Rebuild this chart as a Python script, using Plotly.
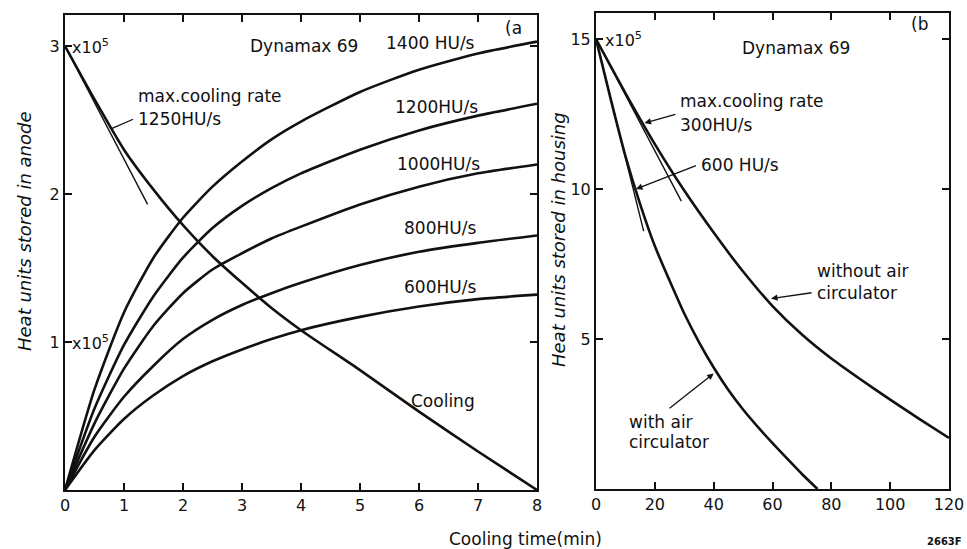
import plotly.graph_objects as go

# ---------------- data (units of 10^5 HU) ----------------
t_a = [0, 0.5, 1, 1.5, 2, 2.5, 3, 3.5, 4, 5, 6, 7, 8]
h1400 = [0, 0.68, 1.20, 1.57, 1.84, 2.05, 2.22, 2.37, 2.49, 2.69, 2.84, 2.95, 3.03]
h1200 = [0, 0.55, 0.98, 1.31, 1.57, 1.77, 1.92, 2.04, 2.14, 2.30, 2.43, 2.53, 2.61]
h1000 = [0, 0.45, 0.82, 1.11, 1.33, 1.49, 1.60, 1.70, 1.78, 1.93, 2.05, 2.14, 2.20]
h800 = [0, 0.36, 0.63, 0.84, 1.02, 1.15, 1.25, 1.33, 1.40, 1.52, 1.61, 1.67, 1.72]
h600 = [0, 0.27, 0.48, 0.64, 0.77, 0.87, 0.95, 1.02, 1.08, 1.17, 1.24, 1.29, 1.32]
cooling_a = [3.0, 2.64, 2.30, 2.03, 1.79, 1.58, 1.40, 1.23, 1.08, 0.81, 0.53, 0.26, 0.0]
tan_a_x = [0, 1.4]
tan_a_y = [3.0, 1.93]

t_b_without = [0, 10, 20, 30, 40, 50, 60, 70, 80, 90, 100, 110, 120]
without_air = [15, 13.2, 11.5, 9.95, 8.55, 7.25, 6.1, 5.15, 4.35, 3.65, 2.98, 2.33, 1.7]
t_b_with = [0, 5, 10, 15, 20, 25, 30, 35, 40, 45, 50, 55, 60, 65, 70, 75.3]
with_air = [15, 13.0, 11.1, 9.5, 8.1, 6.95, 5.85, 4.9, 4.05, 3.3, 2.65, 2.07, 1.53, 1.01, 0.5, 0]
tan300_x = [0, 29]
tan300_y = [15, 9.6]
tan600_x = [0, 16.2]
tan600_y = [15, 8.6]

xticks_a = [0, 1, 2, 3, 4, 5, 6, 7, 8]
yticks_a = [1, 2, 3]
xticks_b = [0, 20, 40, 60, 80, 100, 120]
yticks_b = [5, 10, 15]

FONT = "DejaVu Sans"
BLACK = "#111111"

# the page body margin is removed in post_script, so the figure fills the window
W, H = 967, 549
def px(x):
    return x / W
def py(y):
    return 1 - y / H

fig = go.Figure()

def curve(x, y, xa, ya, w=2.6):
    fig.add_trace(go.Scatter(x=x, y=y, mode="lines", xaxis=xa, yaxis=ya,
                             line=dict(color=BLACK, width=w, shape="spline", smoothing=0.6),
                             showlegend=False, hoverinfo="skip"))

for h in (h1400, h1200, h1000, h800, h600):
    curve(t_a, h, "x", "y")
curve(t_a, cooling_a, "x", "y")
curve(tan_a_x, tan_a_y, "x", "y", w=1.4)

curve(t_b_without, without_air, "x2", "y2")
curve(t_b_with, with_air, "x2", "y2")
curve(tan300_x, tan300_y, "x2", "y2", w=1.4)
curve(tan600_x, tan600_y, "x2", "y2", w=1.4)

axis_common = dict(showline=True, linecolor=BLACK, linewidth=2, mirror="allticks",
                   ticks="inside", ticklen=7, tickwidth=1.6, tickcolor=BLACK,
                   showgrid=False, zeroline=False, automargin=False,
                   tickfont=dict(family=FONT, size=16, color=BLACK))

fig.update_layout(
    width=W, height=H,
    margin=dict(l=0, r=0, t=0, b=0, pad=0),
    paper_bgcolor="white", plot_bgcolor="white",
    font=dict(family=FONT, color=BLACK),
    hovermode=False,
    xaxis=dict(domain=[px(65), px(537)], range=[0, 8], tickvals=xticks_a,
               anchor="y", **axis_common),
    yaxis=dict(domain=[py(490), py(15)], range=[0, 3.21], tickvals=yticks_a,
               anchor="x", **axis_common),
    xaxis2=dict(domain=[px(596), px(949)], range=[0, 120], tickvals=xticks_b,
                anchor="y2", **axis_common),
    yaxis2=dict(domain=[py(489), py(13)], range=[0, 15.87], tickvals=yticks_b,
                anchor="x2", **axis_common),
)

ann = []
def txt(text, x, y, xref="x", yref="y", size=17, xanchor="left", yanchor="middle", **kw):
    ann.append(dict(text=text, x=x, y=y, xref=xref, yref=yref, showarrow=False,
                    xanchor=xanchor, yanchor=yanchor,
                    font=dict(family=FONT, size=size, color=BLACK), **kw))

def arrow(x, y, ax, ay, xref="x", yref="y", head=2):
    ann.append(dict(text="", x=x, y=y, ax=ax, ay=ay, xref=xref, yref=yref,
                    axref=xref, ayref=yref, showarrow=True, arrowhead=head,
                    arrowsize=1, arrowwidth=1.3, arrowcolor=BLACK))

# panel (a)
txt("x10<sup>5</sup>", 0.08, 3.0, size=16)
txt("x10<sup>5</sup>", 0.08, 1.0, size=16)
txt("Dynamax 69", 4.05, 3.0, xanchor="center")
txt("(a", 7.6, 3.12, xanchor="center")
txt("1400 HU/s", 6.2, 3.02, xanchor="center")
txt("1200HU/s", 6.3, 2.59, xanchor="center")
txt("1000HU/s", 6.33, 2.20, xanchor="center")
txt("800HU/s", 6.35, 1.77, xanchor="center")
txt("600HU/s", 6.35, 1.37, xanchor="center")
txt("Cooling", 6.4, 0.60, xanchor="center")
txt("max.cooling rate", 1.2, 2.66)
txt("1250HU/s", 1.2, 2.51)
arrow(0.78, 2.44, 1.18, 2.51, head=0)

# panel (b)
txt("x10<sup>5</sup>", 2.5, 15.0, xref="x2", yref="y2", size=16)
txt("Dynamax 69", 68, 14.7, xref="x2", yref="y2", xanchor="center")
txt("(b", 110, 15.5, xref="x2", yref="y2", xanchor="center")
txt("max.cooling rate", 28, 12.95, xref="x2", yref="y2")
txt("300HU/s", 28, 12.15, xref="x2", yref="y2")
arrow(16.5, 12.2, 27.5, 12.5, xref="x2", yref="y2")
txt("600 HU/s", 35.0, 10.8, xref="x2", yref="y2")
arrow(13.6, 10.0, 34.5, 10.8, xref="x2", yref="y2")
txt("without air", 74.5, 7.27, xref="x2", yref="y2")
txt("circulator", 74.5, 6.55, xref="x2", yref="y2")
arrow(59.5, 6.35, 73.8, 6.55, xref="x2", yref="y2")
txt("with air", 10.5, 2.24, xref="x2", yref="y2")
txt("circulator", 10.5, 1.57, xref="x2", yref="y2")
arrow(40.0, 3.85, 24.5, 2.65, xref="x2", yref="y2")

# axis titles and credits
txt("<i>Heat units stored in anode</i>", px(24), py(231), xref="paper", yref="paper",
    size=18, xanchor="center", yanchor="middle", textangle=-90)
txt("<i>Heat units stored in housing</i>", px(558), py(240), xref="paper", yref="paper",
    size=18, xanchor="center", yanchor="middle", textangle=-90)
txt("Cooling time(min)", px(525), py(539), xref="paper", yref="paper",
    size=17, xanchor="center", yanchor="middle")
txt("<b>2663F</b>", px(944), py(541), xref="paper", yref="paper",
    size=10, xanchor="center", yanchor="middle")

fig.update_layout(annotations=ann)
fig.write_html("out.html",
               config={"displayModeBar": False},
               post_script="document.body.style.margin='0';"
                           "document.documentElement.style.overflow='hidden';")
